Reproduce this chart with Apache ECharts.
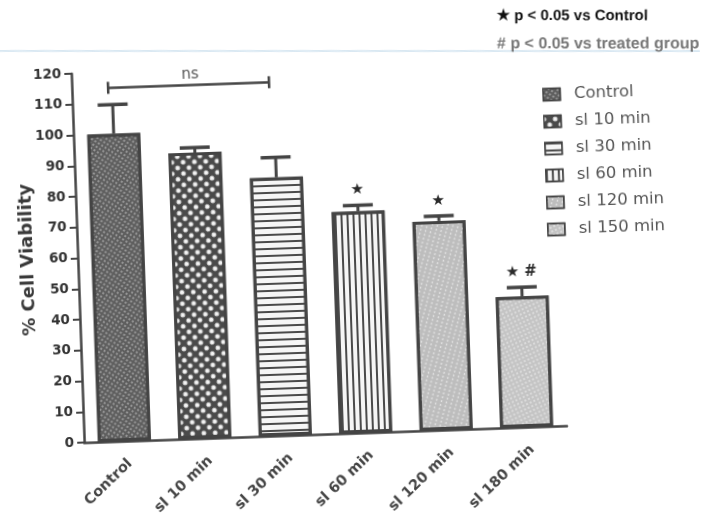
<!DOCTYPE html>
<html>
<head>
<meta charset="utf-8">
<script src="https://cdn.jsdelivr.net/npm/echarts@6/dist/echarts.min.js"></script>
<style>
html,body{margin:0;padding:0;background:#fff;overflow:hidden;}
#chart{width:707px;height:521px;transform:rotate(-2deg);transform-origin:50% 50%;}
</style>
</head>
<body>
<div id="chart"></div>
<script>
// ---- data ----
var categories = ['Control', 'sl 10 min', 'sl 30 min', 'sl 60 min', 'sl 120 min', 'sl 180 min'];
var legendNames = ['Control', 'sl 10 min', 'sl 30 min', 'sl 60 min', 'sl 120 min', 'sl 150 min'];
var viability = [100, 93, 84, 72, 68, 42.5];
var errors = [9.5, 1.6, 6.5, 2, 1.6, 3];
var sigMarks = ['', '', '', '★', '★', '★ #'];
var yTicks = [0, 120, 10]; // min, max, interval
var nsFrom = 0, nsTo = 2, nsLevel = 115, nsText = 'ns';
var note1 = '★ p < 0.05 vs Control';
var note2 = '# p < 0.05 vs treated group';

// ---- styles ----
var decals = [
  {fill:'#5e5e5e', decal:{symbol:'circle', symbolSize:0.8, color:'rgba(255,255,255,0.8)', dashArrayX:[2,1.4], dashArrayY:[2,1.4], rotation:0.6}},
  {fill:'#4a4a4a', decal:{symbol:'circle', symbolSize:0.95, color:'#f4f4f4', dashArrayX:[4.6,2.2], dashArrayY:[4.6,2.2], rotation:Math.PI/4}},
  {fill:'#f6f6f6', decal:{symbol:'rect', symbolSize:1, color:'#4a4a4a', dashArrayX:[1,0], dashArrayY:[1.8,4.2]}},
  {fill:'#f6f6f6', decal:{symbol:'rect', symbolSize:1, color:'#4a4a4a', dashArrayX:[1.8,3.4], dashArrayY:[1,0]}},
  {fill:'#bdbdbd', decal:{symbol:'circle', symbolSize:0.8, color:'rgba(255,255,255,0.9)', dashArrayX:[2.4,1.4], dashArrayY:[2,1.5], rotation:0.3}},
  {fill:'#c4c4c4', decal:{symbol:'circle', symbolSize:0.8, color:'rgba(255,255,255,0.9)', dashArrayX:[2,1.8], dashArrayY:[2,1.5], rotation:-0.4}}
];
var ink = '#444';
var ROT = 2 * Math.PI / 180;
var CX = 353.5, CY = 260.5;
// map a screen position into the rotated canvas' coordinates
function unrot(x, y) {
  var dx = x - CX, dy = y - CY, c = Math.cos(ROT), s = Math.sin(ROT);
  return [CX + dx * c - dy * s, CY + dx * s + dy * c];
}

var series = legendNames.map(function (name, i) {
  return {
    name: name,
    type: 'bar',
    stack: 'all',
    barWidth: 53,
    itemStyle: {color: decals[i].fill, borderColor: ink, borderWidth: 3, decal: decals[i].decal},
    emphasis: {disabled: true},
    data: viability.map(function (v, j) { return j === i ? v : '-'; })
  };
});

series.push({
  type: 'custom',
  z: 5,
  silent: true,
  encode: {x: 0, y: 1},
  data: categories.map(function (c, i) { return [i, viability[i], errors[i]]; }),
  renderItem: function (params, api) {
    var i = api.value(0), v = api.value(1), e = api.value(2);
    var p0 = api.coord([i, v]), p1 = api.coord([i, v + e]);
    var ch = [
      {type: 'line', shape: {x1: p0[0], y1: p0[1], x2: p1[0], y2: p1[1]}, style: {stroke: ink, lineWidth: 3}},
      {type: 'line', shape: {x1: p1[0] - 15, y1: p1[1], x2: p1[0] + 15, y2: p1[1]}, style: {stroke: ink, lineWidth: 3.5}}
    ];
    var m = sigMarks[params.dataIndex];
    if (m) ch.push({type: 'text', x: p1[0], y: p1[1] - 15, style: {text: m, align: 'center', verticalAlign: 'middle', font: 'bold 15px "DejaVu Sans"', fill: '#2a2a2a'}});
    return {type: 'group', children: ch};
  }
});

series.push({
  type: 'custom',
  z: 5,
  silent: true,
  encode: {x: 0, y: 2},
  data: [[nsFrom, nsTo, nsLevel]],
  renderItem: function (params, api) {
    var a = api.coord([api.value(0), api.value(2)]);
    var b = api.coord([api.value(1), api.value(2)]);
    return {type: 'group', children: [
      {type: 'line', shape: {x1: a[0] - 4, y1: a[1], x2: b[0] - 4, y2: b[1]}, style: {stroke: ink, lineWidth: 2.5}},
      {type: 'line', shape: {x1: a[0] - 4, y1: a[1] - 6, x2: a[0] - 4, y2: a[1] + 6}, style: {stroke: ink, lineWidth: 2.5}},
      {type: 'line', shape: {x1: b[0] - 4, y1: b[1] - 6, x2: b[0] - 4, y2: b[1] + 6}, style: {stroke: ink, lineWidth: 2.5}},
      {type: 'text', x: (a[0] + b[0]) / 2 - 2, y: a[1] - 10, style: {text: nsText, align: 'center', verticalAlign: 'middle', font: '15px "DejaVu Sans"', fill: '#555'}}
    ]};
  }
});

var n1 = unrot(497, 16), n2 = unrot(497, 44), l1 = unrot(-30, 51), l2 = unrot(740, 51);

var option = {
  animation: false,
  backgroundColor: 'transparent',
  grid: {left: 78, right: 146, top: 64, bottom: 88},
  legend: {
    orient: 'vertical',
    left: 543,
    top: 88,
    icon: 'rect',
    itemWidth: 17,
    itemHeight: 12,
    itemGap: 10,
    selectedMode: false,
    data: legendNames,
    itemStyle: {borderColor: ink, borderWidth: 1.5},
    textStyle: {fontFamily: 'DejaVu Sans', fontSize: 16.5, color: '#555', padding: [0, 0, 0, 9]}
  },
  xAxis: {
    type: 'category',
    data: categories,
    axisLine: {lineStyle: {color: ink, width: 2.5}},
    axisTick: {alignWithLabel: true, length: 5, lineStyle: {color: ink, width: 2}},
    axisLabel: {rotate: 42, margin: 15, align: 'right', verticalAlign: 'top', fontFamily: 'DejaVu Sans', fontWeight: 'bold', fontSize: 14.5, color: '#444'}
  },
  yAxis: {
    type: 'value',
    min: yTicks[0], max: yTicks[1], interval: yTicks[2],
    name: '% Cell Viability',
    nameLocation: 'middle',
    nameGap: 41,
    nameMoveOverlap: false,
    nameRotate: 90,
    nameTextStyle: {fontFamily: 'DejaVu Sans', fontWeight: 'bold', fontSize: 18, color: '#3a3a3a'},
    axisLine: {show: true, lineStyle: {color: ink, width: 2.5}},
    axisTick: {show: true, length: 7, lineStyle: {color: ink, width: 2}},
    splitLine: {show: false},
    axisLabel: {margin: 10, fontFamily: 'DejaVu Sans', fontWeight: 'bold', fontSize: 13.5, color: '#333'}
  },
  graphic: [
    {type: 'line', shape: {x1: l1[0], y1: l1[1], x2: l2[0], y2: l2[1]}, style: {stroke: '#cfe2ef', lineWidth: 1.5}, silent: true},
    {type: 'text', x: n1[0], y: n1[1], rotation: -ROT, style: {text: note1, font: 'bold 15px "Liberation Sans"', fill: '#111', align: 'left', verticalAlign: 'middle'}},
    {type: 'text', x: n2[0], y: n2[1], rotation: -ROT, style: {text: note2, font: 'bold 16px "Liberation Sans"', fill: '#777', align: 'left', verticalAlign: 'middle'}}
  ],
  series: series
};

var chart = echarts.init(document.getElementById('chart'), null, {renderer: 'canvas'});
chart.setOption(option);
</script>
</body>
</html>
